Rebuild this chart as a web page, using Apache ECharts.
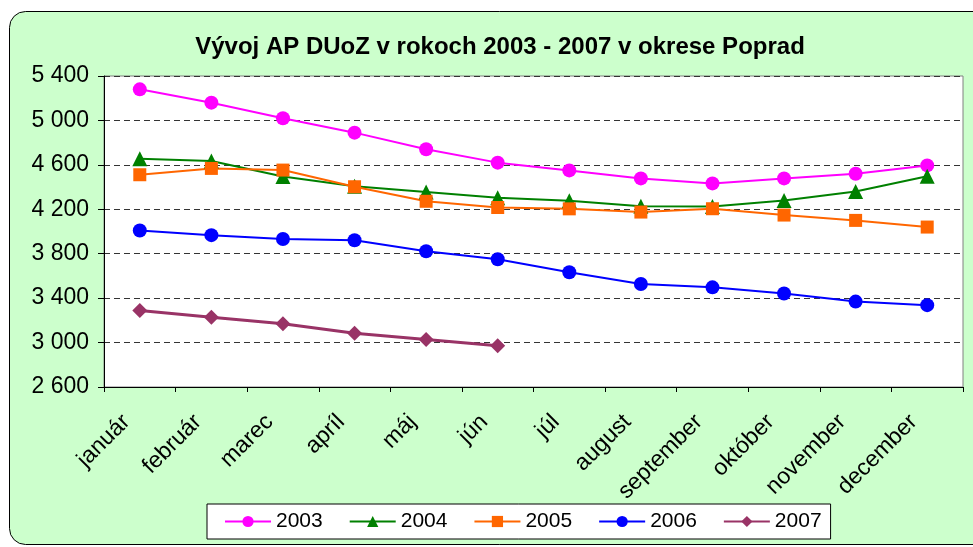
<!DOCTYPE html>
<html><head><meta charset="utf-8">
<script src="https://cdn.jsdelivr.net/npm/echarts@6/dist/echarts.min.js"></script>
<style>html,body{margin:0;padding:0;background:#fff}#c{width:973px;height:547px}</style>
</head><body><div id="c"></div>
<script>
var months = ['január','február','marec','apríl','máj','jún','júl','august','september','október','november','december'];
var y2003 = [5280,5160,5020,4890,4740,4620,4550,4478,4433,4478,4520,4595];
var y2004 = [4655,4635,4495,4408,4355,4303,4276,4228,4225,4279,4360,4498];
var y2005 = [4511,4568,4553,4403,4272,4216,4204,4175,4205,4148,4100,4040];
var y2006 = [4009,3967,3933,3921,3822,3750,3633,3527,3497,3442,3369,3337];
var y2007 = [3288,3228,3170,3083,3028,2972];
var yMin = 2600, yMax = 5400, yStep = 400;

var chart = echarts.init(document.getElementById('c'));
var font = 'Liberation Sans, Arial, sans-serif';
function mk(name, data, color, symbol, size, width) {
  return {name:name, type:'line', data:data, symbol:symbol, symbolSize:size,
    lineStyle:{color:color, width:width}, itemStyle:{color:color, borderWidth:0}, z: 3};
}
chart.setOption({
  animation:false,
  textStyle:{fontFamily:font},
  graphic:[{type:'rect', z:-10, shape:{x:9.5, y:11.5, width:990, height:533, r:16},
    style:{fill:'#CCFFCC', stroke:'#000', lineWidth:1}}],
  title:{text:'Vývoj AP DUoZ v rokoch 2003 - 2007 v okrese Poprad', left:495, textAlign:'center', top:30,
    textStyle:{fontSize:24, fontWeight:'bold', color:'#000', fontFamily:font}},
  grid:{left:104, top:76, right:10, bottom:160, show:true, backgroundColor:'#fff', borderColor:'#808080', borderWidth:1},
  legend:{left:207, top:504, itemGap:26, itemWidth:46, itemHeight:14,
    backgroundColor:'#fff', borderColor:'#000', borderWidth:1, padding:[7,9,7,17],
    textStyle:{fontSize:21, color:'#000', fontFamily:font},
    data:['2003','2004','2005','2006','2007']},
  xAxis:{type:'category', data:months, boundaryGap:true,
    axisLine:{lineStyle:{color:'#000'}}, axisTick:{show:true, length:5, lineStyle:{color:'#000'}},
    axisLabel:{rotate:45, fontSize:23, color:'#000', margin:18, padding:[0,19,0,0], interval:0}},
  yAxis:{type:'value', min:yMin, max:yMax, interval:yStep,
    axisLine:{show:true, lineStyle:{color:'#000'}}, axisTick:{show:true, length:6, lineStyle:{color:'#000'}},
    axisLabel:{fontSize:23, color:'#000', margin:15, formatter:function(v){return String(v).replace(/\B(?=(\d{3})+(?!\d))/g,' ');}},
    splitLine:{show:true, lineStyle:{color:'#333', type:[6,4], width:1}}},
  series:[
    mk('2003', y2003, '#FF00FF', 'circle', 14, 2),
    mk('2004', y2004, '#008000', 'triangle', 15, 2),
    mk('2005', y2005, '#FF6600', 'rect', 13, 2),
    mk('2006', y2006, '#0000FF', 'circle', 14, 2),
    mk('2007', y2007, '#993366', 'diamond', 15, 3)
  ]
});
</script></body></html>
